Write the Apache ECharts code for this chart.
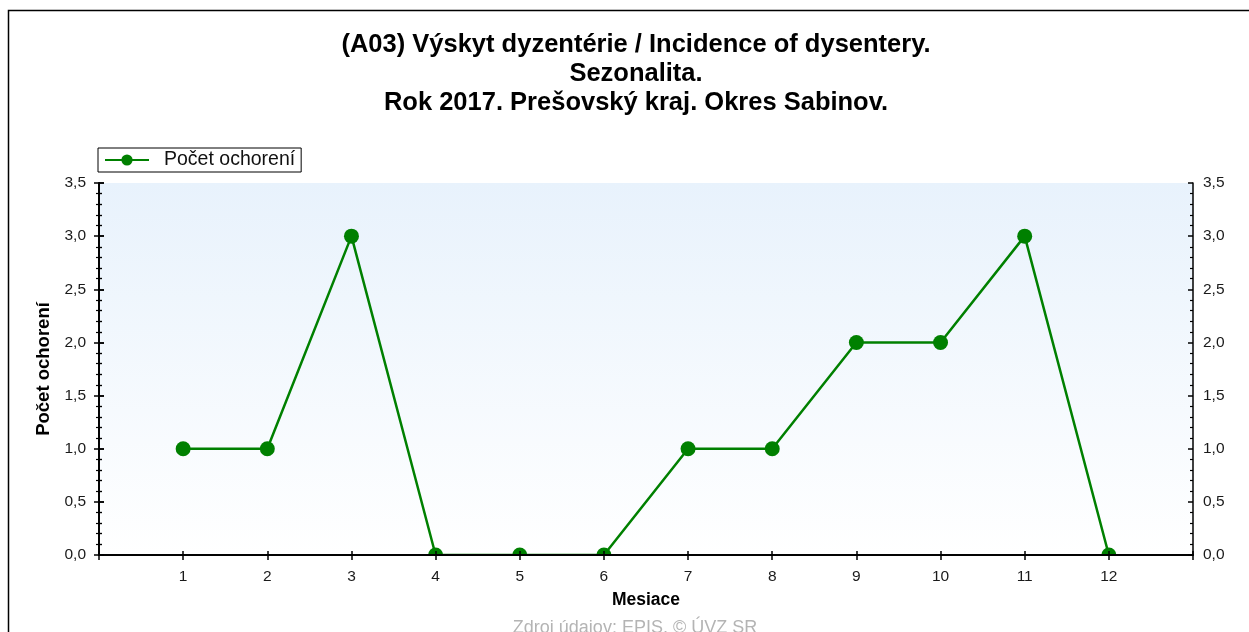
<!DOCTYPE html>
<html>
<head>
<meta charset="utf-8">
<script src="https://cdn.jsdelivr.net/npm/echarts@6/dist/echarts.min.js"></script>
<style>html,body{margin:0;padding:0;background:#fff}#c{width:1249px;height:632px}</style>
</head>
<body>
<div id="c"></div>
<script>
var months = [1,2,3,4,5,6,7,8,9,10,11,12];
var cases = [1,1,3,0,0,0,1,1,2,2,3,0];
var titleLines = ['(A03) Výskyt dyzentérie / Incidence of dysentery.', 'Sezonalita.', 'Rok 2017. Prešovský kraj. Okres Sabinov.'];
var seriesName = 'Počet ochorení';
var xName = 'Mesiace';
var yName = 'Počet ochorení';
var sourceText = 'Zdroj údajov: EPIS, © ÚVZ SR';

var FONT = '"Liberation Sans", Arial, sans-serif';
var chart = echarts.init(document.getElementById('c'));
var fmtY = function(v){ return v.toFixed(1).replace('.', ','); };
var fmtX = function(v){ return (v >= 1 && v <= 12) ? String(v) : ''; };
var lineStyle = {color:'#000', width:1.5};
var gridPos = {left:99, right:56, top:183, bottom:77};

function yAx(grid, pos, inside, labels, margin, extra){
  return Object.assign({
    type:'value', gridIndex:grid, position:pos, min:0, max:3.5, interval:0.5, z:200,
    axisLine:{show:true, lineStyle:lineStyle},
    axisTick:{show:true, inside:inside, length:5, lineStyle:lineStyle},
    minorTick:{show:true, splitNumber:5, length:3, lineStyle:{color:'#000', width:1.2}},
    axisLabel:{show:labels, formatter:fmtY, color:'#1a1a1a', fontFamily:FONT, fontSize:15.5, margin:margin},
    splitLine:{show:false}
  }, extra||{});
}
function xAx(grid, pos, inside, labels, len, extra){
  return Object.assign({
    type:'value', gridIndex:grid, position:pos, min:0, max:13, interval:1, z:200,
    axisLine:{show:true, lineStyle:lineStyle},
    axisTick:{show:true, inside:inside, length:len, lineStyle:lineStyle},
    axisLabel:{show:labels, formatter:fmtX, color:'#1a1a1a', fontFamily:FONT, fontSize:15.5, margin:14},
    splitLine:{show:false}
  }, extra||{});
}

var option = {
  animation:false,
  backgroundColor:'#fff',
  title:{
    text: titleLines.join('\n'),
    left:631, top:25, textAlign:'center',
    textStyle:{fontFamily:FONT, fontSize:25.5, fontWeight:'bold', color:'#000', lineHeight:29}
  },
  legend:{
    left:98, top:148, orient:'horizontal',
    borderColor:'#000', borderWidth:1, padding:[2,6,2,6],
    itemWidth:44, itemHeight:14,
    textStyle:{fontFamily:FONT, fontSize:19.5, color:'#111', padding:[0,0,0,10]},
    data:[seriesName]
  },
  grid:[
    Object.assign({show:true, borderWidth:0, backgroundColor:{type:'linear', x:0, y:0, x2:0, y2:1,
      colorStops:[{offset:0, color:'#e8f2fc'},{offset:1, color:'#ffffff'}]}}, gridPos),
    Object.assign({show:false}, gridPos)
  ],
  xAxis:[
    xAx(0,'bottom',false,true,5,{name:xName, nameLocation:'middle', nameGap:36,
      nameTextStyle:{fontFamily:FONT, fontSize:17.5, fontWeight:'bold', color:'#000'}}),
    xAx(0,'top',true,false,5),
    xAx(1,'bottom',true,false,4)
  ],
  yAxis:[
    yAx(0,'left',false,true,13,{name:yName, nameLocation:'middle', nameGap:43,
      nameTextStyle:{fontFamily:FONT, fontSize:18.5, fontWeight:'bold', color:'#000'}}),
    yAx(0,'right',false,true,10),
    yAx(1,'left',true,false,8),
    yAx(1,'right',true,false,8)
  ],
  graphic:[
    {type:'rect', z:-10, silent:true,
      shape:{x:8.5, y:10.5, width:1400, height:800}, style:{fill:null, stroke:'#000', lineWidth:1.5}},
    {type:'rect', z:100, silent:true,
      shape:{x:100, y:556, width:1092, height:10}, style:{fill:'#fff'}},
    {type:'text', z:5, x:635, y:619,
      style:{text:sourceText, fill:'#b4b4b4', textAlign:'center', font:'18px "Liberation Sans", Arial, sans-serif'}}
  ],
  series:[{
    name:seriesName, type:'line', xAxisIndex:0, yAxisIndex:0,
    data: months.map(function(m,i){ return [m, cases[i]]; }),
    symbol:'circle', symbolSize:15, clip:false, z:3,
    itemStyle:{color:'#008000'},
    lineStyle:{color:'#008000', width:2.5}
  }]
};
chart.setOption(option);
</script>
</body>
</html>
